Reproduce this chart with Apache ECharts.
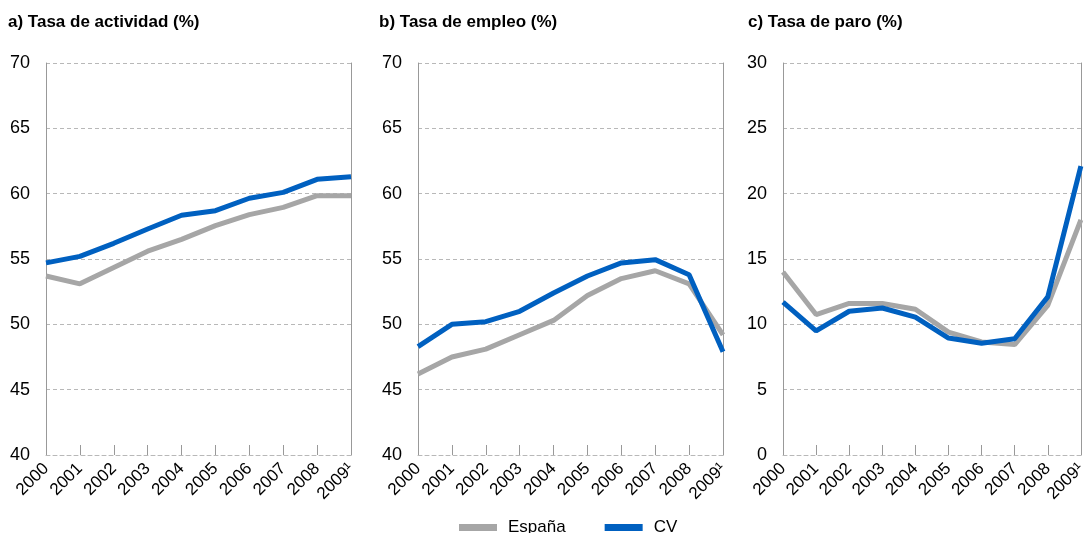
<!DOCTYPE html>
<html>
<head>
<meta charset="utf-8">
<script src="https://cdn.jsdelivr.net/npm/echarts@6/dist/echarts.min.js"></script>
<style>
html,body{margin:0;padding:0;background:#fff;}
#chart{width:1089px;height:533px;}
</style>
</head>
<body>
<div id="chart"></div>
<script>
const years = ['2000','2001','2002','2003','2004','2005','2006','2007','2008','2009¹'];
const titles = ['a) Tasa de actividad (%)','b) Tasa de empleo (%)','c) Tasa de paro (%)'];
const seriesNames = ['España','CV'];

const actividadEspana = [53.7,53.1,54.35,55.6,56.5,57.55,58.4,58.95,59.85,59.85];
const actividadCV     = [54.7,55.2,56.2,57.3,58.35,58.7,59.65,60.1,61.1,61.3];
const empleoEspana    = [46.2,47.5,48.1,49.2,50.3,52.2,53.5,54.1,53.1,49.2];
const empleoCV        = [48.3,50.0,50.2,51.0,52.4,53.7,54.7,54.95,53.8,47.9];
const paroEspana      = [14.0,10.75,11.6,11.6,11.15,9.4,8.65,8.45,11.45,18.0];
const paroCV          = [11.7,9.5,11.0,11.25,10.55,8.95,8.55,8.9,12.1,22.1];

const yMins = [40,40,0];
const yMaxs = [70,70,30];
const yIntervals = [5,5,5];

const gridLefts = [46,418,783];
const gridWidth = 305;
const titleLefts = [3,374,743];

const font = 'Liberation Sans, Arial, sans-serif';
const gray = '#a6a6a6';
const blue = '#0060c0';
const axisGray = '#999999';
const gridGray = '#b8b8b8';

const data = [[actividadEspana, actividadCV],[empleoEspana, empleoCV],[paroEspana, paroCV]];

const grids = [], xAxes = [], yAxes = [], series = [], titleArr = [];
for (let i = 0; i < 3; i++) {
  grids.push({left: gridLefts[i], width: gridWidth, top: 63, height: 392});
  titleArr.push({text: titles[i], left: titleLefts[i], top: 9,
    textStyle: {fontFamily: font, fontSize: 17, fontWeight: 'bold', color: '#000'}});
  xAxes.push({
    type: 'category', gridIndex: i, data: years, boundaryGap: false,
    axisLine: {show: true, lineStyle: {color: gridGray, type: [4,3], width: 1}},
    axisTick: {show: true, inside: true, length: 10, alignWithLabel: true, lineStyle: {color: axisGray}},
    axisLabel: {rotate: 45, fontFamily: font, fontSize: 17, color: '#000', margin: 11, interval: 0},
    splitLine: {show: false}
  });
  yAxes.push({
    type: 'value', gridIndex: i, min: yMins[i], max: yMaxs[i], interval: yIntervals[i],
    axisLine: {show: true, lineStyle: {color: axisGray, width: 1}},
    axisTick: {show: false},
    axisLabel: {fontFamily: font, fontSize: 18, color: '#000', margin: 16},
    splitLine: {show: true, lineStyle: {color: gridGray, type: [4,3], width: 1}}
  });
  yAxes.push({
    type: 'value', gridIndex: i, position: 'right', min: yMins[i], max: yMaxs[i], interval: yIntervals[i],
    axisLine: {show: true, lineStyle: {color: axisGray, width: 1}},
    axisTick: {show: false}, axisLabel: {show: false}, splitLine: {show: false}
  });
  const colors = [gray, blue];
  for (let s = 0; s < 2; s++) {
    series.push({
      name: seriesNames[s], type: 'line', xAxisIndex: i, yAxisIndex: i*2,
      data: data[i][s], symbol: 'none', smooth: false, z: 3 + s,
      lineStyle: {color: colors[s], width: 5},
      itemStyle: {color: colors[s]}
    });
  }
}

const chart = echarts.init(document.getElementById('chart'), null, {renderer: 'canvas'});
chart.setOption({
  animation: false,
  backgroundColor: '#fff',
  title: titleArr,
  legend: {
    data: seriesNames, top: 514, left: 454, itemGap: 39, padding: 5,
    icon: 'rect', itemWidth: 38, itemHeight: 7,
    textStyle: {fontFamily: font, fontSize: 17, color: '#000', padding: [0,0,0,6]}
  },
  grid: grids, xAxis: xAxes, yAxis: yAxes, series: series
});
</script>
</body>
</html>
